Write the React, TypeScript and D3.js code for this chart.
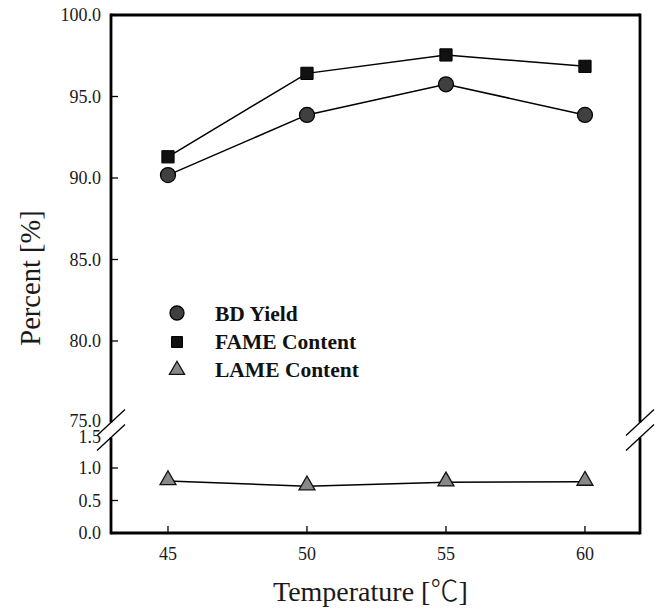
import React from "react";
import * as d3 from "d3";

const temps = [45, 50, 55, 60];
const bdYield = [90.18, 93.87, 95.75, 93.87];
const fameContent = [91.3, 96.42, 97.55, 96.85];
const lameContent = [0.8, 0.72, 0.78, 0.79];
const upperTicks = [75, 80, 85, 90, 95, 100];
const lowerTicks = [0, 0.5, 1.0, 1.5];
const legendLabels = ["BD Yield", "FAME Content", "LAME Content"];

const W = 666, H = 610;
const serif = "'Liberation Serif', 'Times New Roman', serif";

export default function App() {
  const x = d3.scaleLinear().domain([42.95, 61.98]).range([111, 640]);
  const yTop = d3.scaleLinear().domain([75, 100]).range([422.5, 15]);
  const yBot = d3.scaleLinear().domain([0, 1.5]).range([533, 435.5]);
  const L = x.range()[0], R = x.range()[1];
  const top = yTop.range()[1], bottom = yBot.range()[0];
  const gapA = yTop(75), gapB = yBot(1.5) + 2;

  const lineTop = d3.line<number>().x((_, i) => x(temps[i])).y(d => yTop(d));
  const lineBot = d3.line<number>().x((_, i) => x(temps[i])).y(d => yBot(d));

  const tri = d3.symbol().type(d3.symbolTriangle).size(110)();
  const sq = d3.symbol().type(d3.symbolSquare).size(150)();

  const frame = 2.8;
  const slash = (cx: number, cy: number, k: string) => (
    <line key={k} x1={cx - 14} y1={cy + 13} x2={cx + 14} y2={cy - 13} stroke="#000" strokeWidth={1.3} />
  );

  return (
    <svg width={W} height={H} style={{ position: "absolute", left: 0, top: 0, background: "#fff" }} fontFamily={serif}>
      <rect width={W} height={H} fill="#fff" />
      {/* frame */}
      <line x1={L} y1={top} x2={R} y2={top} stroke="#000" strokeWidth={frame} />
      <line x1={L} y1={bottom} x2={R} y2={bottom} stroke="#000" strokeWidth={frame} />
      <line x1={L} y1={top - 1.4} x2={L} y2={gapA} stroke="#000" strokeWidth={frame} />
      <line x1={L} y1={gapB} x2={L} y2={bottom + 1.4} stroke="#000" strokeWidth={frame} />
      <line x1={R} y1={top - 1.4} x2={R} y2={gapA} stroke="#000" strokeWidth={frame} />
      <line x1={R} y1={gapB} x2={R} y2={bottom + 1.4} stroke="#000" strokeWidth={frame} />
      {slash(L, gapA, "l1")}
      {slash(L, gapB, "l2")}
      {slash(R, gapA, "r1")}
      {slash(R, gapB, "r2")}

      {/* y ticks upper */}
      {upperTicks.map(t => (
        <g key={"u" + t}>
          {t > 75 && t < 100 && <line x1={L} x2={L + 7} y1={yTop(t)} y2={yTop(t)} stroke="#000" strokeWidth={1.3} />}
          <text x={101} y={yTop(t) - (t === 75 ? 1.5 : 0)} dy="0.35em" textAnchor="end" fontSize={18} fill="#1a1a1a">{t.toFixed(1)}</text>
        </g>
      ))}
      {lowerTicks.map(t => (
        <g key={"b" + t}>
          {t > 0 && t < 1.5 && <line x1={L} x2={L + 7} y1={yBot(t)} y2={yBot(t)} stroke="#000" strokeWidth={1.3} />}
          <text x={101} y={yBot(t) + (t === 1.5 ? 1.5 : 0)} dy="0.35em" textAnchor="end" fontSize={18} fill="#1a1a1a">{t.toFixed(1)}</text>
        </g>
      ))}
      {temps.map(t => (
        <g key={"x" + t}>
          <line x1={x(t)} x2={x(t)} y1={bottom} y2={bottom - 7} stroke="#000" strokeWidth={1.3} />
          <text x={x(t)} y={560} textAnchor="middle" fontSize={18} fill="#1a1a1a">{t}</text>
        </g>
      ))}

      {/* series */}
      <path d={lineTop(fameContent) || ""} fill="none" stroke="#000" strokeWidth={1.5} />
      <path d={lineTop(bdYield) || ""} fill="none" stroke="#000" strokeWidth={1.5} />
      <path d={lineBot(lameContent) || ""} fill="none" stroke="#000" strokeWidth={1.5} />
      {fameContent.map((v, i) => (
        <path key={"f" + i} d={sq || ""} transform={`translate(${x(temps[i])},${yTop(v)})`} fill="#111" stroke="#000" strokeWidth={1} />
      ))}
      {bdYield.map((v, i) => (
        <circle key={"c" + i} cx={x(temps[i])} cy={yTop(v)} r={7.5} fill="#404040" stroke="#000" strokeWidth={1.3} />
      ))}
      {lameContent.map((v, i) => (
        <path key={"t" + i} d={tri || ""} transform={`translate(${x(temps[i])},${yBot(v) - 1})`} fill="#888" stroke="#111" strokeWidth={1.3} />
      ))}

      {/* legend */}
      <circle cx={177} cy={313} r={7} fill="#404040" stroke="#000" strokeWidth={1.3} />
      <path d={d3.symbol().type(d3.symbolSquare).size(120)() || ""} transform="translate(177,342)" fill="#111" stroke="#000" />
      <path d={d3.symbol().type(d3.symbolTriangle).size(100)() || ""} transform="translate(177,370)" fill="#888" stroke="#111" strokeWidth={1.3} />
      {legendLabels.map((s, i) => (
        <text key={s} x={215} y={313 + i * 28} dy="0.35em" fontSize={21.5} fontWeight="bold" fill="#111">{s}</text>
      ))}

      {/* axis titles */}
      <text x={273} y={601} fontSize={28} fill="#1a1a1a">
        Temperature [<tspan fontFamily="'Noto Sans CJK SC', sans-serif" fontWeight={300}>℃</tspan>]
      </text>
      <text transform={`translate(40,${(top + bottom) / 2 + 4}) rotate(-90)`} textAnchor="middle" fontSize={28.5} fill="#1a1a1a">Percent [%]</text>
    </svg>
  );
}
